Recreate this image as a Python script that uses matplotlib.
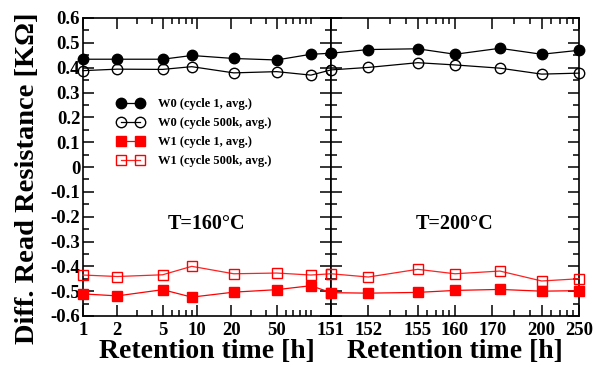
import numpy as np
import matplotlib
matplotlib.use("Agg")
import matplotlib.pyplot as plt
from matplotlib.ticker import FixedLocator, NullFormatter, FixedFormatter

# ---- data ----
t_left = [1, 2, 5, 9, 21, 50, 100, 150]
t_right = [151, 152, 155, 160, 173, 200, 250]

w0_c1_left = [0.434, 0.434, 0.434, 0.449, 0.437, 0.431, 0.454, 0.458]
w0_c1_right = [0.458, 0.473, 0.476, 0.454, 0.478, 0.454, 0.470]
w0_500k_left = [0.388, 0.394, 0.393, 0.404, 0.379, 0.384, 0.370, 0.391]
w0_500k_right = [0.391, 0.401, 0.420, 0.411, 0.398, 0.374, 0.378]
w1_c1_left = [-0.511, -0.519, -0.494, -0.524, -0.504, -0.494, -0.478, -0.506]
w1_c1_right = [-0.506, -0.508, -0.505, -0.497, -0.493, -0.500, -0.498]
w1_500k_left = [-0.435, -0.441, -0.434, -0.400, -0.430, -0.427, -0.435, -0.430]
w1_500k_right = [-0.430, -0.443, -0.412, -0.430, -0.419, -0.459, -0.450]

labels = ["W0 (cycle 1, avg.)", "W0 (cycle 500k, avg.)",
          "W1 (cycle 1, avg.)", "W1 (cycle 500k, avg.)"]

y_ticks = [-0.6, -0.5, -0.4, -0.3, -0.2, -0.1, 0, 0.1, 0.2, 0.3, 0.4, 0.5, 0.6]
y_tick_labels = ["-0.6", "-0.5", "-0.4", "-0.3", "-0.2", "-0.1", "0",
                 "0.1", "0.2", "0.3", "0.4", "0.5", "0.6"]
left_major = [1, 2, 5, 10, 20, 50]
left_minor = [3, 4, 6, 7, 8, 9, 30, 40, 60, 70, 80, 90, 100]
right_major = [151, 152, 155, 160, 170, 200, 250]
right_minor = [153, 154, 156, 157, 158, 159, 180, 190, 210, 220, 230, 240]

FONT = ["Liberation Serif", "DejaVu Serif"]
plt.rcParams['font.family'] = FONT
plt.rcParams['font.weight'] = 'bold'

W, H = 606, 368
fig = plt.figure(figsize=(W / 100, H / 100), dpi=100)
x0, x1, xm = 83, 579, 331
y0, y1 = 18, 316
ax1 = fig.add_axes([x0 / W, 1 - y1 / H, (xm - x0) / W, (y1 - y0) / H])
ax2 = fig.add_axes([xm / W, 1 - y1 / H, (x1 - xm) / W, (y1 - y0) / H])


def fwd(t):
    t = np.asarray(t, dtype=float)
    with np.errstate(divide='ignore', invalid='ignore'):
        return np.log10(np.maximum(t - 150.0, 1e-6))


def inv(u):
    return 10 ** np.asarray(u, dtype=float) + 150.0


ax1.set_xscale('log')
ax2.set_xscale('function', functions=(fwd, inv))

styles = [
    dict(color='black', marker='o', mfc='black', mec='black', ms=7.5),
    dict(color='black', marker='o', mfc='none', mec='black', ms=7.5, mew=1.0),
    dict(color='#ff0000', marker='s', mfc='#ff0000', mec='#ff0000', ms=6.8),
    dict(color='#ff2020', marker='s', mfc='none', mec='#ff0000', ms=6.6, mew=1.0),
]
left_series = [w0_c1_left, w0_500k_left, w1_c1_left, w1_500k_left]
right_series = [w0_c1_right, w0_500k_right, w1_c1_right, w1_500k_right]

for ys, st, lab in zip(left_series, styles, labels):
    ax1.plot(t_left, ys, lw=0.9, clip_on=False, label=lab, zorder=3, **st)
for ys, st in zip(right_series, styles):
    ax2.plot(t_right, ys, lw=0.9, clip_on=False, zorder=3, **st)

ax1.set_xlim(1, 150)
ax2.set_xlim(151, 250)
for ax in (ax1, ax2):
    ax.set_ylim(-0.6, 0.6)
    ax.yaxis.set_major_locator(FixedLocator(y_ticks))
    ax.yaxis.set_minor_locator(FixedLocator(np.arange(-0.55, 0.6, 0.1)))
    ax.tick_params(which='both', direction='in', top=True, right=True,
                   width=1.1, labelsize=13.5)
    ax.tick_params(which='major', length=8)
    ax.tick_params(which='minor', length=4.5)
    ax.tick_params(axis='x', pad=4)
    ax.tick_params(axis='y', pad=2)
    for s in ax.spines.values():
        s.set_linewidth(1.2)
    ax.set_xlabel("Retention time [h]", fontsize=20, fontweight='bold',
                  labelpad=0)

ax1.yaxis.set_major_formatter(FixedFormatter(y_tick_labels))

ax1.xaxis.set_major_locator(FixedLocator(left_major))
ax1.xaxis.set_major_formatter(FixedFormatter([str(v) for v in left_major]))
ax1.xaxis.set_minor_locator(FixedLocator(left_minor))
ax1.xaxis.set_minor_formatter(NullFormatter())

ax2.xaxis.set_major_locator(FixedLocator(right_major))
ax2.xaxis.set_major_formatter(FixedFormatter([str(v) for v in right_major]))
ax2.xaxis.set_minor_locator(FixedLocator(right_minor))
ax2.xaxis.set_minor_formatter(NullFormatter())
ax2.tick_params(axis='y', labelleft=False)

fig.text(28 / W, 1 - 178 / H, "Diff. Read Resistance [KΩ]", rotation=90,
         ha='center', va='center', fontsize=20.5, fontweight='bold')

ax1.text(0.5, 0.31, "T=160°C", transform=ax1.transAxes, ha='center',
         va='center', fontsize=14.5, fontweight='bold')
ax2.text(0.5, 0.31, "T=200°C", transform=ax2.transAxes, ha='center',
         va='center', fontsize=14.5, fontweight='bold')

ax1.legend(loc='upper left', bbox_to_anchor=(0.14, 0.73), frameon=False,
           numpoints=2, handlelength=2.1, handletextpad=1.1,
           labelspacing=0.56, borderpad=0, borderaxespad=0,
           prop=dict(family=FONT, weight='bold', size=9))

fig.savefig("out.png", dpi=100)
